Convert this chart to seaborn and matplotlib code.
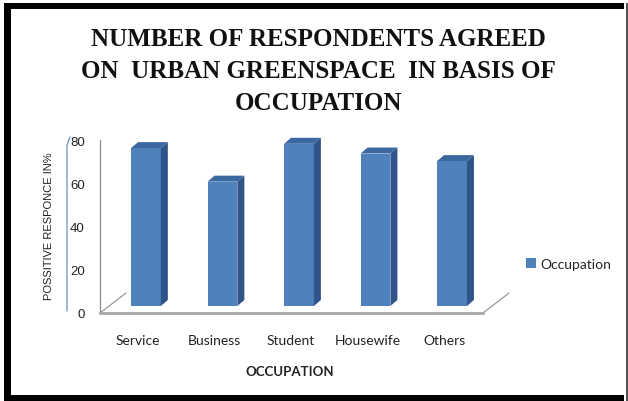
import matplotlib
matplotlib.use("Agg")
import matplotlib.pyplot as plt
import matplotlib.transforms as mtransforms
from matplotlib.patches import Polygon, Rectangle
from matplotlib.lines import Line2D
import seaborn as sns
import pandas as pd

# ---- data ----
categories = ["Service", "Business", "Student", "Housewife", "Others"]
values = [73, 57.5, 75, 70.5, 67]
yticks = [0, 20, 40, 60, 80]
series_name = "Occupation"
title = "NUMBER OF RESPONDENTS AGREED\nON  URBAN GREENSPACE  IN BASIS OF\nOCCUPATION"
xlabel = "OCCUPATION"
ylabel = "POSSITIVE RESPONCE IN%"

df = pd.DataFrame({"cat": categories, "val": values})

sns.set_theme(style="white")
plt.rcParams["font.family"] = ["Lato", "DejaVu Sans"]

W, H = 628, 402
fig = plt.figure(figsize=(W / 100, H / 100), dpi=100)
fig.patch.set_facecolor("white")

def fx(px):
    return px / W

def fy(py):
    return 1 - py / H

ax = fig.add_axes([fx(100), fy(314), fx(483) - fx(100), fy(141) - fy(314)])
ax.set_facecolor("none")

front = "#4F81BD"
side = "#30548A"
top = "#3C68A2"

sns.barplot(data=df, x="cat", y="val", color=front, width=0.39, ax=ax,
            saturation=1, label=series_name, zorder=3)

xmin, xmax = -0.60, 4.405
ymin, ymax = 0, 80
ax.set_xlim(xmin, xmax)
ax.set_ylim(ymin, ymax)

# pixel -> data conversion
ax_w_px = 483 - 100
ax_h_px = 314 - 141
ux = (xmax - xmin) / ax_w_px
uy = (ymax - ymin) / ax_h_px

base = 7 * uy          # floor offset of bars (front face base)
dx, dy = 7 * ux, 6 * uy  # 3D depth

for p in ax.patches:
    h = p.get_height()
    p.set_y(base)
    p.set_edgecolor("none")
    p.set_clip_on(False)
    x0 = p.get_x()
    x1 = x0 + p.get_width()
    y0 = base
    y1 = base + h
    ax.add_patch(Polygon([(x1, y0), (x1, y1), (x1 + dx, y1 + dy), (x1 + dx, y0 + dy)],
                         closed=True, facecolor=side, edgecolor="none",
                         clip_on=False, zorder=3))
    ax.add_patch(Polygon([(x0, y1), (x1, y1), (x1 + dx, y1 + dy), (x0 + dx, y1 + dy)],
                         closed=True, facecolor=top, edgecolor="none",
                         clip_on=False, zorder=3))

# floor diagonals
fdx, fdy = 26 * ux, 20 * uy
ax.add_line(Line2D([xmin, xmin + fdx], [0, fdy], color="#9A9A9A", lw=0.9,
                   clip_on=False, zorder=2))
ax.add_line(Line2D([xmax, xmax + fdx], [0, fdy], color="#9A9A9A", lw=0.9,
                   clip_on=False, zorder=2))

# spines
for s in ["top", "right"]:
    ax.spines[s].set_visible(False)
ax.spines["left"].set_color("#8C8C8C")
ax.spines["left"].set_linewidth(0.9)
ax.spines["bottom"].set_color("#A8A8A8")
ax.spines["bottom"].set_linewidth(2.0)

ax.set_yticks(yticks)
ax.tick_params(axis="y", which="major", direction="out", length=3, width=0.8,
               color="#8C8C8C", labelsize=9.5, pad=8)
for lab in ax.get_yticklabels():
    lab.set_fontfamily(["Liberation Sans", "DejaVu Sans"])
    lab.set_color("#222222")
ax.tick_params(axis="x", length=0, labelsize=10, pad=15)
offset = mtransforms.ScaledTranslation(-8 / 100, 0, fig.dpi_scale_trans)
for lab in ax.get_xticklabels():
    lab.set_transform(lab.get_transform() + offset)
    lab.set_color("#222222")

ax.set_xlabel(xlabel, fontsize=9.5, fontweight="bold", color="#222222")
ax.xaxis.set_label_coords((290 - 100) / ax_w_px, (314 - 366) / ax_h_px)
ax.set_ylabel(ylabel, fontsize=8, color="#222222",
              fontfamily=["Liberation Sans Narrow", "Liberation Sans", "DejaVu Sans"])
ax.yaxis.set_label_coords((54 - 100) / ax_w_px, (314 - 226) / ax_h_px)

# legend
leg = ax.legend(loc="center left", bbox_to_anchor=(fx(526), fy(265)),
                bbox_transform=fig.transFigure, frameon=False, fontsize=10,
                handlelength=0.7, handleheight=0.7, handletextpad=0.3,
                borderaxespad=0, borderpad=0)

# title
fig.text(fx(318), fy(71), title, ha="center", va="center", fontsize=18,
         fontweight="bold", fontfamily=["Liberation Serif", "DejaVu Serif"],
         linespacing=1.5, color="#111111")

# decorative blue line near y axis
fig.add_artist(Line2D([fx(67), fx(67), fx(70)], [fy(312), fy(146), fy(138)],
                      color="#7B9CC0", lw=1.0))

# border
fig.add_artist(Rectangle((fx(4), 0), fx(7), fy(4),
                         transform=fig.transFigure, facecolor="black", edgecolor="none"))
fig.add_artist(Rectangle((fx(4), fy(10)), fx(624) - fx(4), fy(4) - fy(10),
                         transform=fig.transFigure, facecolor="black", edgecolor="none"))
fig.add_artist(Rectangle((fx(4), 0), fx(624) - fx(4), fy(396),
                         transform=fig.transFigure, facecolor="black", edgecolor="none"))
fig.add_artist(Rectangle((fx(626), 0), fx(2), fy(4),
                         transform=fig.transFigure, facecolor="#555555", edgecolor="none"))

fig.savefig("out.png", dpi=100, facecolor="white")
